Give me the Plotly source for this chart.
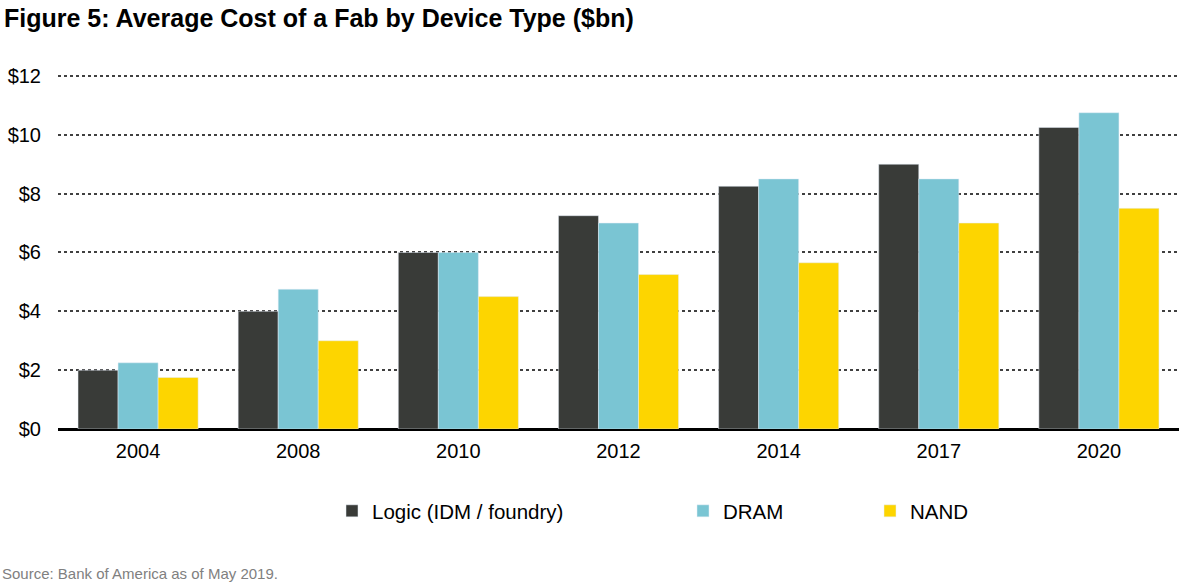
import plotly.graph_objects as go

years = ["2004", "2008", "2010", "2012", "2014", "2017", "2020"]
logic = [2.0, 4.0, 6.0, 7.25, 8.25, 9.0, 10.25]
dram = [2.25, 4.75, 6.0, 7.0, 8.5, 8.5, 10.75]
nand = [1.75, 3.0, 4.5, 5.25, 5.65, 7.0, 7.5]
tick_vals = [0, 2, 4, 6, 8, 10, 12]
tick_text = ["$0", "$2", "$4", "$6", "$8", "$10", "$12"]

FONT = "Liberation Sans, Arial, sans-serif"
W, H = 1181, 586
ML, MR, MT, MB = 58, 2, 73, 157
PW = W - ML - MR
PH = H - MT - MB


def px_x(p):
    return (p - ML) / PW


def px_y(p):
    return (H - MB - p) / PH


fig = go.Figure()
fig.add_bar(x=years, y=logic, name="Logic (IDM / foundry)", marker_color="#393B38", legend="legend")
fig.add_bar(x=years, y=dram, name="DRAM", marker_color="#7AC5D3", legend="legend2")
fig.add_bar(x=years, y=nand, name="NAND", marker_color="#FDD500", legend="legend3")

leg_common = dict(orientation="h", yanchor="middle", xanchor="left", y=px_y(511),
                  font=dict(family=FONT, size=20.5), bgcolor="rgba(0,0,0,0)")

fig.update_layout(
    width=W, height=H,
    margin=dict(l=ML, r=MR, t=MT, b=MB, autoexpand=False),
    paper_bgcolor="white", plot_bgcolor="white",
    barmode="group", bargap=0.25, bargroupgap=0,
    font=dict(family=FONT, size=20, color="#000000"),
    title=dict(text="<b>Figure 5: Average Cost of a Fab by Device Type ($bn)</b>",
               x=4 / W, xanchor="left", y=1 - 18 / H, yanchor="middle",
               font=dict(family=FONT, size=25, color="#000000")),
    legend=dict(x=px_x(332), **leg_common),
    legend2=dict(x=px_x(683), **leg_common),
    legend3=dict(x=px_x(870), **leg_common),
    showlegend=True,
)
fig.update_xaxes(showgrid=False, ticks="", showline=False, automargin=False,
                 ticklabelstandoff=8, tickfont=dict(family=FONT, size=20))
fig.update_yaxes(range=[0, 12.1], tickvals=tick_vals, ticktext=tick_text, automargin=False,
                 showgrid=True, gridcolor="#404040", griddash="dot", gridwidth=1.5,
                 zeroline=True, zerolinecolor="#000000", zerolinewidth=3,
                 ticks="", ticklabelstandoff=16, showline=False,
                 tickfont=dict(family=FONT, size=20))

fig.add_annotation(text="Source: Bank of America as of May 2019.", xref="paper", yref="paper",
                   x=px_x(0), xanchor="left", y=px_y(573), yanchor="middle", showarrow=False,
                   font=dict(family=FONT, size=15, color="#808080"))

fig.write_html("out.html", config={"displayModeBar": False},
               post_script="document.body.style.margin='0';document.body.style.overflow='hidden';")
